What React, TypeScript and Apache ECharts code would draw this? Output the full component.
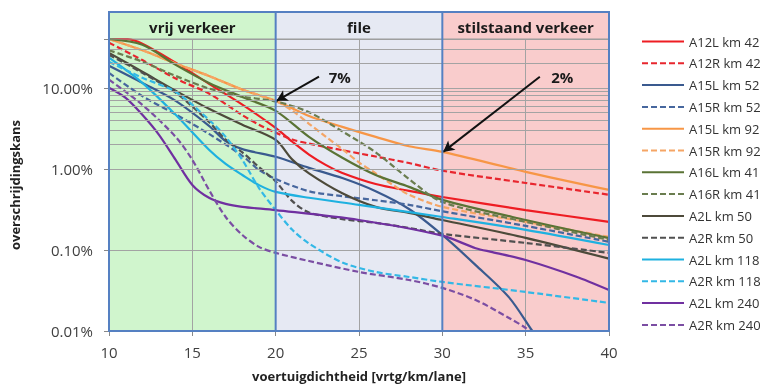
import React, { useEffect, useRef } from 'react';
import * as echarts from 'echarts';

// x: voertuigdichtheid [vrtg/km/lane], y: overschrijdingskans in percent
const A12L_km42 = [[10,40],[11,40],[12,35],[14,20.4],[16,11.2],[18,6.2],[20,3.2],[21,2.16],[22,1.5],[23,1.12],[24,0.89],[26,0.65],[28,0.535],[30,0.45],[35,0.31],[40,0.222]];
const A12R_km42 = [[10,36],[12,22],[14,13],[16,8.5],[18,4.6],[19,3.5],[20,2.8],[21,2.3],[22,2.05],[24,1.7],[26,1.42],[28,1.18],[30,0.95],[35,0.67],[40,0.48]];
const A15L_km52 = [[10,18.7],[12,11.5],[14,6.9],[16,3.4],[17,2.2],[18,1.75],[20,1.41],[22,1.03],[24,0.77],[26,0.53],[28,0.32],[30,0.153],[32,0.065],[34,0.026],[35.4,0.01],[36,0.0067]];
const A15R_km52 = [[10,15.3],[12,7.9],[14,4.7],[16,2.7],[18,1.45],[19,0.97],[20,0.75],[22,0.53],[24,0.46],[26,0.41],[28,0.36],[30,0.3],[35,0.198],[40,0.126]];
const A15L_km92 = [[10,40],[12,29],[14,20],[16,14],[18,9.5],[20,6.9],[22,4.5],[24,3.3],[26,2.48],[28,1.9],[30,1.62],[35,0.92],[40,0.55]];
const A15R_km92 = [[10,40],[12,29],[14,20],[16,14],[18,9.5],[20,6.9],[21,5.2],[22,3.6],[23,2.5],[24,1.75],[25,1.2],[26,0.88],[27,0.64],[28,0.48],[30,0.34],[35,0.222],[40,0.145]];
const A16L_km41 = [[10,40],[12,34],[14,19.2],[16,11.5],[18,7.7],[20,5.2],[22,2.48],[24,1.37],[26,0.84],[28,0.6],[30,0.414],[35,0.234],[40,0.14]];
const A16R_km41 = [[10,29],[12,21],[14,14],[16,9.8],[18,7.8],[20,6.8],[22,5.0],[24,2.9],[26,1.6],[28,0.75],[30,0.39],[35,0.222],[40,0.133]];
const A2L_km50 = [[10,27],[12,15.8],[14,9.2],[16,5.5],[18,3.5],[20,2.28],[21,1.3],[22,0.88],[24,0.5],[26,0.34],[28,0.286],[30,0.234],[35,0.141],[40,0.078]];
const A2R_km50 = [[10,25.6],[12,15.3],[14,8.7],[16,3.8],[17,2.3],[18,1.6],[19,1.05],[20,0.7],[21,0.4],[22,0.29],[24,0.24],[26,0.216],[28,0.187],[30,0.158],[35,0.122],[40,0.092]];
const A2L_km118 = [[10,23.5],[12,11.5],[14,4.64],[16,1.72],[17,1.15],[18,0.84],[19,0.63],[20,0.52],[22,0.44],[25,0.36],[30,0.255],[35,0.177],[40,0.115]];
const A2R_km118 = [[10,20.9],[12,13.3],[14,8.9],[16,4.03],[17,2.48],[18,1.29],[19,0.58],[20,0.31],[21,0.177],[22,0.12],[24,0.07],[26,0.0535],[28,0.0464],[30,0.0403],[35,0.0303],[40,0.0222]];
const A2L_km240 = [[10,10],[11,7.5],[12,4.64],[13,2.63],[14,1.29],[15,0.634],[16,0.44],[17,0.37],[18,0.34],[20,0.31],[25,0.234],[30,0.15],[32,0.105],[33,0.094],[35,0.075],[38,0.047],[40,0.032]];
const A2R_km240 = [[10,12.6],[12,6.17],[14,2.48],[15,1.29],[16,0.55],[17,0.255],[18,0.153],[19,0.109],[20,0.092],[22,0.073],[25,0.0535],[28,0.0426],[30,0.034],[32,0.0241],[34,0.0145],[35,0.0109],[36,0.0077]];

const seriesNames = ['A12L km 42','A12R km 42','A15L km 52','A15R km 52','A15L km 92','A15R km 92','A16L km 41','A16R km 41','A2L km 50','A2R km 50','A2L km 118','A2R km 118','A2L km 240','A2R km 240'];
const seriesData = [A12L_km42, A12R_km42, A15L_km52, A15R_km52, A15L_km92, A15R_km92, A16L_km41, A16R_km41, A2L_km50, A2R_km50, A2L_km118, A2R_km118, A2L_km240, A2R_km240];
const seriesColors = ['#ee1d23','#e8262e','#3a5a8f','#47679e','#f79646','#f5a565','#5a7335','#6a7d4f','#4d4a3a','#505050','#1eb1e0','#33b8e6','#7030a0','#7b4ea3'];
const seriesDashed = [false,true,false,true,false,true,false,true,false,true,false,true,false,true];

const regionNames = ['vrij verkeer', 'file', 'stilstaand verkeer'];
const regionBounds = [[10, 20], [20, 30], [30, 40]];
const regionColors = ['#d0f5cd', '#e6e9f3', '#f9cccc'];

const minorGridValues = [0.0002,0.0003,0.0004,0.0005,0.0006,0.0007,0.0008,0.0009,0.002,0.003,0.004,0.005,0.006,0.007,0.008,0.009,0.02,0.03,0.04,0.05,0.06,0.07,0.08,0.09,0.2,0.3];

const annotations = [
  { label: '7%', from: [22.6, 0.137], to: [20.05, 0.069], text: [23.85, 0.137] },
  { label: '2%', from: [35.85, 0.137], to: [30.05, 0.0162], text: [37.2, 0.137] },
];

const FONT = '"Open Sans", sans-serif';

export default function App() {
  const ref = useRef<HTMLDivElement>(null);
  useEffect(() => {
    const chart = echarts.init(ref.current as HTMLDivElement, null, { renderer: 'svg' });
    const lines: any[] = seriesNames.map((name, i) => ({
      name,
      type: 'line',
      data: seriesData[i].map(([x, p]) => [x, p / 100]),
      symbol: 'none',
      showSymbol: false,
      smooth: 0.3,
      z: 4,
      lineStyle: { color: seriesColors[i], width: 2.2, type: seriesDashed[i] ? [6, 3] : 'solid' },
      itemStyle: { color: seriesColors[i] },
    }));
    const gridSeries = {
      name: 'grid', type: 'line', data: [], z: 2, silent: true,
      markLine: {
        silent: true, symbol: ['none', 'none'], label: { show: false },
        lineStyle: { color: '#a3a3a3', width: 1, type: 'solid' },
        data: minorGridValues.map((v) => ({ yAxis: v })),
      },
    };
    const arrowSeries = {
      name: 'arrows', type: 'line', data: [], z: 6, silent: true,
      markLine: {
        silent: true, symbol: ['none', 'arrow'], symbolSize: [9, 11], label: { show: false },
        lineStyle: { color: '#111', width: 2, type: 'solid' },
        data: annotations.map((a) => [{ coord: a.from }, { coord: a.to }]),
      },
    };
    chart.setOption({
      animation: false,
      grid: { left: 109, top: 39, right: 167, bottom: 54, containLabel: false, outerBoundsMode: 'none' },
      legend: {
        orient: 'vertical', left: 641, top: 35, padding: 0, itemWidth: 42, itemHeight: 14, itemGap: 8.8,
        selectedMode: false, data: seriesNames,
        itemStyle: { color: 'rgba(0,0,0,0)', borderWidth: 0, opacity: 0 },
        textStyle: { fontFamily: FONT, fontSize: 13, color: '#333' },
      },
      xAxis: {
        type: 'value', min: 10, max: 40, interval: 5,
        name: 'voertuigdichtheid [vrtg/km/lane]', nameLocation: 'middle', nameGap: 38,
        nameTextStyle: { fontFamily: FONT, fontSize: 13, fontWeight: 'bold', color: '#222' },
        axisLine: { show: false },
        axisTick: { show: true, length: 5, lineStyle: { color: '#888' } },
        axisLabel: { fontFamily: FONT, fontSize: 15, color: '#404040', margin: 13 },
        splitLine: { show: true, lineStyle: { color: '#a3a3a3', width: 1 } },
      },
      yAxis: {
        type: 'log', logBase: 10, min: 0.0001, max: 0.4,
        name: 'overschrijdingskans', nameLocation: 'middle', nameGap: 88, nameRotate: 90,
        nameTextStyle: { fontFamily: FONT, fontSize: 13, fontWeight: 'bold', color: '#222' },
        axisLine: { show: false },
        axisTick: { show: true, length: 5, lineStyle: { color: '#888' } },
        axisLabel: {
          fontFamily: FONT, fontSize: 15, color: '#404040', margin: 16,
          formatter: (v: number) => {
            const l = Math.log10(v);
            if (Math.abs(l - Math.round(l)) > 1e-6) return '';
            return (v * 100).toFixed(2) + '%';
          },
        },
        splitLine: { show: true, lineStyle: { color: '#a3a3a3', width: 1 } },
      },
      series: [gridSeries, ...lines, arrowSeries],
    });

    const px = (x: number, y: number) => chart.convertToPixel({ gridIndex: 0 }, [x, y]) as number[];
    const bottomLeft = px(10, 0.0001);
    const topRight = px(40, 0.4);
    const gridTop = topRight[1];
    const gridBottom = bottomLeft[1];
    const headerTop = gridTop - 27;
    const border = '#5580c2';
    const graphic: any[] = [];
    regionBounds.forEach(([a, b], i) => {
      const xa = px(a, 0.1)[0];
      const xb = px(b, 0.1)[0];
      graphic.push({
        type: 'rect', z: -10, silent: true,
        shape: { x: xa, y: headerTop, width: xb - xa, height: gridBottom - headerTop },
        style: { fill: regionColors[i] },
      });
      graphic.push({
        type: 'text', z: 10, silent: true,
        x: (xa + xb) / 2, y: (headerTop + gridTop) / 2 + 1,
        style: {
          text: regionNames[i], fontFamily: FONT, fontSize: 15, fontWeight: 'bold', fill: '#1a1a1a',
          align: 'center', verticalAlign: 'middle',
        },
      });
    });
    graphic.push({
      type: 'line', z: 9, silent: true,
      shape: { x1: bottomLeft[0], y1: gridTop, x2: topRight[0], y2: gridTop },
      style: { stroke: '#9a9a9a', lineWidth: 1 },
    });
    [20, 30].forEach((v) => {
      const x = px(v, 0.1)[0];
      graphic.push({
        type: 'line', z: 11, silent: true,
        shape: { x1: x, y1: headerTop, x2: x, y2: gridBottom },
        style: { stroke: border, lineWidth: 2 },
      });
    });
    graphic.push({
      type: 'rect', z: 11, silent: true,
      shape: { x: bottomLeft[0], y: headerTop, width: topRight[0] - bottomLeft[0], height: gridBottom - headerTop },
      style: { fill: 'none', stroke: border, lineWidth: 2 },
    });
    annotations.forEach((a) => {
      const p = px(a.text[0], a.text[1]);
      graphic.push({
        type: 'text', z: 12, silent: true, x: p[0], y: p[1],
        style: {
          text: a.label, fontFamily: FONT, fontSize: 15, fontWeight: 'bold', fill: '#1a1a1a',
          align: 'center', verticalAlign: 'middle',
        },
      });
    });
    chart.setOption({ graphic });

    return () => chart.dispose();
  }, []);
  return <div ref={ref} style={{ position: 'fixed', left: 0, top: 0, width: 776, height: 385 }} />;
}
